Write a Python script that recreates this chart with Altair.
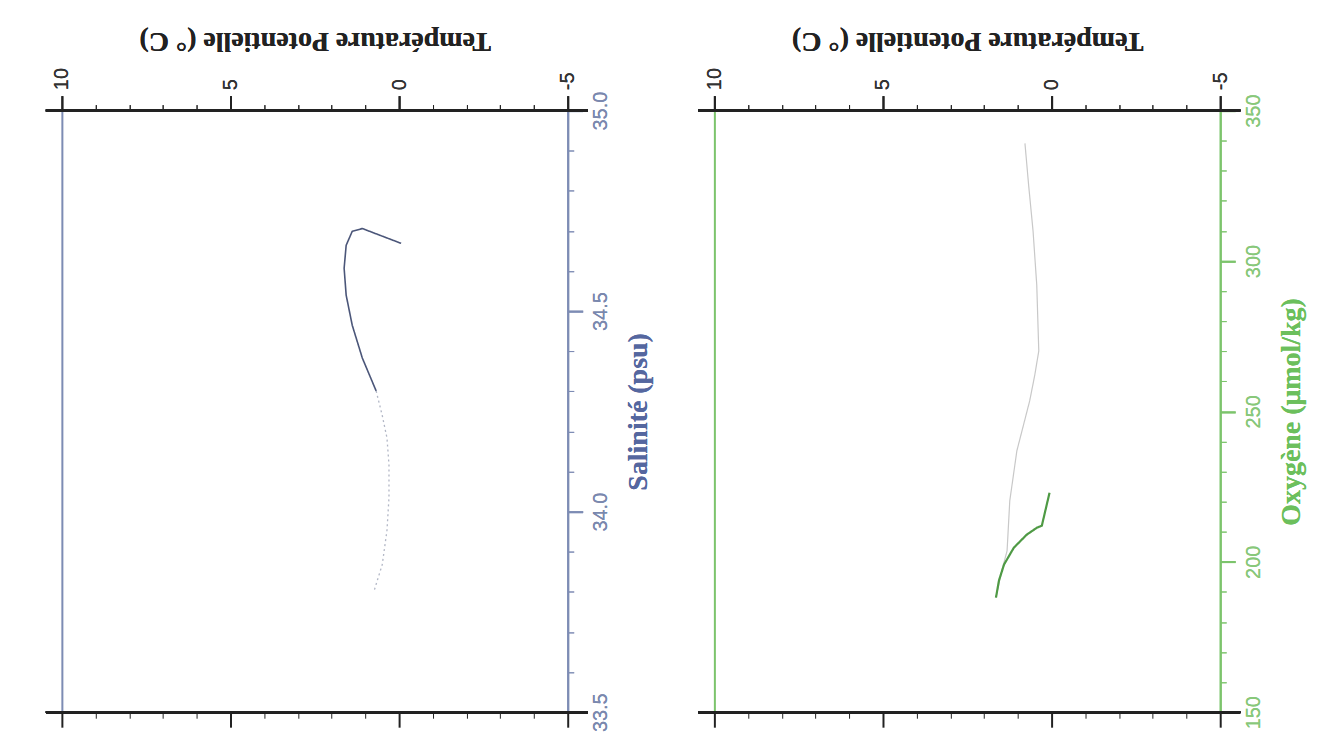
import altair as alt
import pandas as pd

# ---- Data ----
# Left panel: potential temperature vs salinity
ts_dense_T = [-0.06, 0.50, 1.09, 1.39, 1.57, 1.63, 1.57, 1.39, 1.09, 0.68]
ts_dense_S = [34.669, 34.687, 34.706, 34.699, 34.664, 34.607, 34.540, 34.465, 34.383, 34.301]
ts_sparse_T = [0.68, 0.50, 0.36, 0.30, 0.30, 0.36, 0.50, 0.74]
ts_sparse_S = [34.301, 34.240, 34.184, 34.117, 34.035, 33.953, 33.868, 33.803]

# Right panel: potential temperature vs oxygen
ox_gray_T = [0.79, 0.68, 0.55, 0.44, 0.38, 0.50, 0.65, 1.03, 1.24, 1.32, 1.50, 1.65]
ox_gray_O = [339.1, 325.1, 310.0, 292.0, 270.1, 262.0, 253.5, 236.9, 220.3, 203.7, 196.0, 188.1]
ox_green_T = [0.06, 0.29, 0.44, 0.74, 1.12, 1.41, 1.56, 1.65]
ox_green_O = [223.0, 212.0, 211.3, 209.0, 204.7, 199.1, 193.8, 188.1]

temp_ticks = list(range(-5, 11))
sal_ticks = [round(33.5 + 0.1 * i, 1) for i in range(16)]
ox_ticks = list(range(150, 351, 10))

W, H = 507, 603
TITLE_T = "Température Potentielle (° C)"

def series(T, V, name):
    return pd.DataFrame({"T": T, "V": V, "i": list(range(len(T))), "s": name})

ts_df = pd.concat([series(ts_dense_T, ts_dense_S, "dense"),
                   series(ts_sparse_T, ts_sparse_S, "sparse")])
ox_df = pd.concat([series(ox_gray_T, ox_gray_O, "gray"),
                   series(ox_green_T, ox_green_O, "green")])


def panel(df, vdomain, vticks, vformat, vmajor_test, vtitle, accent, label_col,
          title_col, styles):
    xscale = alt.Scale(domain=[-5, 10], reverse=True, nice=False, zero=False)
    yscale = alt.Scale(domain=vdomain, nice=False, zero=False)
    tmaj = "datum.value % 5 == 0"
    x_top = alt.Axis(
        orient="top", values=temp_ticks, grid=False, domain=False,
        labelExpr=f"{tmaj} ? replace(datum.label, '\u2212', '-') : ''",
        tickSize={"condition": {"test": tmaj, "value": 15}, "value": 6},
        tickWidth={"condition": {"test": tmaj, "value": 2}, "value": 1},
        tickColor="#222222", labelAngle=270, labelAlign="left",
        labelBaseline="middle", labelFlush=False, labelOverlap=False,
        labelFont="Liberation Sans", labelFontSize=20, labelColor="#333333",
        labelPadding=6, title=TITLE_T, titleAngle=180, titleBaseline="top",
        titleFont="Liberation Serif", titleFontSize=28, titleFontWeight="bold",
        titleColor="#222222", titlePadding=13)
    y_right = alt.Axis(
        orient="right", values=vticks, format=vformat, grid=False,
        labelExpr=f"{vmajor_test} ? datum.label : ''",
        tickSize={"condition": {"test": vmajor_test, "value": 15}, "value": 6},
        tickWidth={"condition": {"test": vmajor_test, "value": 2}, "value": 1},
        tickColor=accent, domainColor=accent, domainWidth=2,
        labelAngle=270, labelAlign="center", labelBaseline="top",
        labelFlush=False, labelOverlap=False,
        labelFont="Liberation Sans", labelFontSize=20, labelColor=label_col,
        labelPadding=8, title=vtitle, titleAngle=270, titleBaseline="top",
        titleFont="Liberation Serif", titleFontSize=28, titleFontWeight="bold",
        titleColor=title_col, titlePadding=14)
    x_bottom = alt.Axis(
        orient="bottom", values=temp_ticks, grid=False, domain=False,
        labels=False, title=None,
        tickSize={"condition": {"test": tmaj, "value": 15}, "value": 6},
        tickWidth={"condition": {"test": tmaj, "value": 2}, "value": 1},
        tickColor="#222222")
    y_left = alt.Axis(orient="left", grid=False, labels=False, ticks=False,
                      title=None, domainColor=accent, domainWidth=2)

    layers = []
    for name, (col, width, dash, op) in styles.items():
        layers.append(
            alt.Chart(df[df["s"] == name]).mark_line(
                color=col, strokeWidth=width, strokeDash=dash, opacity=op
            ).encode(
                x=alt.X("T:Q", scale=xscale, axis=x_top),
                y=alt.Y("V:Q", scale=yscale, axis=y_right),
                order="i:Q",
            )
        )
    hidden = alt.Chart(df).mark_point(opacity=0).encode(
        x=alt.X("T:Q", scale=xscale, axis=x_bottom),
        y=alt.Y("V:Q", scale=yscale, axis=y_left),
    )
    top_rule = alt.Chart(df).mark_rule(color="#222222", strokeWidth=2).encode(
        x=alt.value(-16), x2=alt.value(W + 20), y=alt.value(0))
    bot_rule = alt.Chart(df).mark_rule(color="#222222", strokeWidth=2).encode(
        x=alt.value(-16), x2=alt.value(W + 20), y=alt.value(H))
    ch = alt.layer(hidden, *layers, top_rule, bot_rule).resolve_axis(
        x="independent", y="independent").properties(width=W, height=H)
    return ch


sal_major = "abs(datum.value * 2 - round(datum.value * 2)) < 0.001"
left = panel(ts_df, [33.5, 35.0], sal_ticks, ".1f", sal_major,
             "Salinité (psu)", "#7d8cb4", "#7a88ae", "#55679f",
             {"dense": ("#4b5679", 1.6, [1, 0], 1.0),
              "sparse": ("#a9aebf", 1.3, [2, 3], 0.9)})
right = panel(ox_df, [150, 350], ox_ticks, "d", "datum.value % 50 == 0",
              "Oxygène (μmol/kg)", "#7cc46c", "#88c87a", "#6cbf5c",
              {"gray": ("#c8c8c8", 1.2, [1, 0], 1.0),
               "green": ("#4f9a45", 2.2, [1, 0], 1.0)})

chart = alt.hconcat(left, right, spacing=43).properties(
    padding={"left": 36, "top": 17, "right": 5, "bottom": 5}
).configure_view(stroke=None).configure(background="white")

chart.save("out.html", embed_options={"renderer": "svg", "actions": False})
